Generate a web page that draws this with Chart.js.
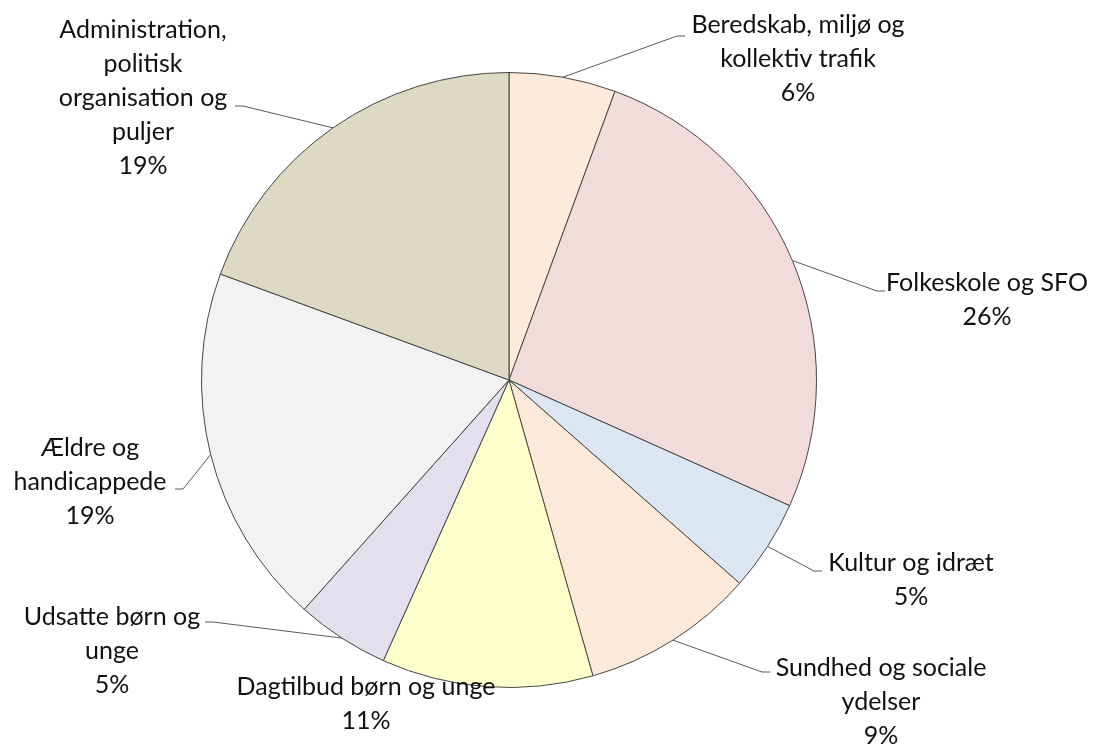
<!DOCTYPE html>
<html>
<head>
<meta charset="utf-8">
<script src="https://cdn.jsdelivr.net/npm/chart.js@4.4.1/dist/chart.umd.min.js"></script>
<style>
  html, body { margin: 0; padding: 0; background: #ffffff; }
  #wrap { width: 1094px; height: 744px; }
</style>
</head>
<body>
<div id="wrap"><canvas id="pie" width="1094" height="744"></canvas></div>
<script>
// data (shares in %, clockwise from the top)
const kategorier = [
  "Beredskab, miljø og kollektiv trafik",
  "Folkeskole og SFO",
  "Kultur og idræt",
  "Sundhed og sociale ydelser",
  "Dagtilbud børn og unge",
  "Udsatte børn og unge",
  "Ældre og handicappede",
  "Administration, politisk organisation og puljer"
]
const andele = [5.6, 26.1, 4.8, 9.1, 11.1, 4.9, 19.0, 19.4]
const procentTekst = ["6%", "26%", "5%", "9%", "11%", "5%", "19%", "19%"]

// how the labels are broken into lines (as in the picture)
const etiketLinjer = [
  ["Beredskab, miljø og", "kollektiv trafik"],
  ["Folkeskole og SFO"],
  ["Kultur og idræt"],
  ["Sundhed og sociale", "ydelser"],
  ["Dagtilbud børn og unge"],
  ["Udsatte børn og", "unge"],
  ["Ældre og", "handicappede"],
  ["Administration,", "politisk", "organisation og", "puljer"]
]

const farver = ['#FDEADA', '#F2DCDB', '#DCE6F2', '#FDE9D9', '#FFFFCC', '#E4DFEC', '#F2F2F2', '#DDD9C3']

// label placement: text centre x, first line centre y, leader end (x,y), tick direction
const placering = [
  { x: 798, y: 25,  lx: 685, ly: 36,  dir: 1 },
  { x: 987, y: 283, lx: 885, ly: 291, dir: 1 },
  { x: 911, y: 563, lx: 822, ly: 571, dir: 1 },
  { x: 881, y: 668, lx: 770, ly: 672, dir: 1 },
  { x: 366, y: 687, lx: null },
  { x: 112, y: 617, lx: 205, ly: 622, dir: -1 },
  { x: 90,  y: 448, lx: 175, ly: 489, dir: -1 },
  { x: 143, y: 30,  lx: 235, ly: 106, dir: -1 }
]

const LINJEAFSTAND = 34

// plugin som tegner etiketter og streger ud til hvert stykke
const etiketPlugin = {
  id: 'etiketter',
  afterDatasetsDraw(chart) {
    const ctx = chart.ctx
    const meta = chart.getDatasetMeta(0)
    ctx.save()
    meta.data.forEach((arc, i) => {
      const p = placering[i]
      const midt = (arc.startAngle + arc.endAngle) / 2
      // leader line
      if (p.lx !== null) {
        const ex = arc.x + Math.cos(midt) * arc.outerRadius
        const ey = arc.y + Math.sin(midt) * arc.outerRadius
        ctx.beginPath()
        ctx.strokeStyle = '#595959'
        ctx.lineWidth = 1
        ctx.moveTo(ex, ey)
        ctx.lineTo(p.lx - p.dir * 8, p.ly)
        ctx.lineTo(p.lx, p.ly)
        ctx.stroke()
      }
      // text
      const linjer = etiketLinjer[i].concat([procentTekst[i]])
      ctx.fillStyle = '#111111'
      ctx.font = '25px Lato, "Open Sans", sans-serif'
      ctx.textAlign = 'center'
      ctx.textBaseline = 'middle'
      linjer.forEach((t, k) => {
        ctx.fillText(t, p.x, p.y + k * LINJEAFSTAND)
      })
    })
    ctx.restore()
  }
}

var ctx = document.getElementById('pie')

var grafen = new Chart(ctx, {
  type: 'pie',
  data: {
    labels: kategorier,
    datasets: [
      {
        data: andele,
        backgroundColor: farver,
        borderColor: '#454545',
        borderWidth: 1
      }
    ]
  },
  options: {
    responsive: false,
    animation: false,
    layout: {
      padding: { top: 72, bottom: 56, left: 201, right: 277 }
    },
    plugins: {
      legend: { display: false },
      tooltip: { enabled: false }
    }
  },
  plugins: [etiketPlugin]
})
</script>
</body>
</html>
